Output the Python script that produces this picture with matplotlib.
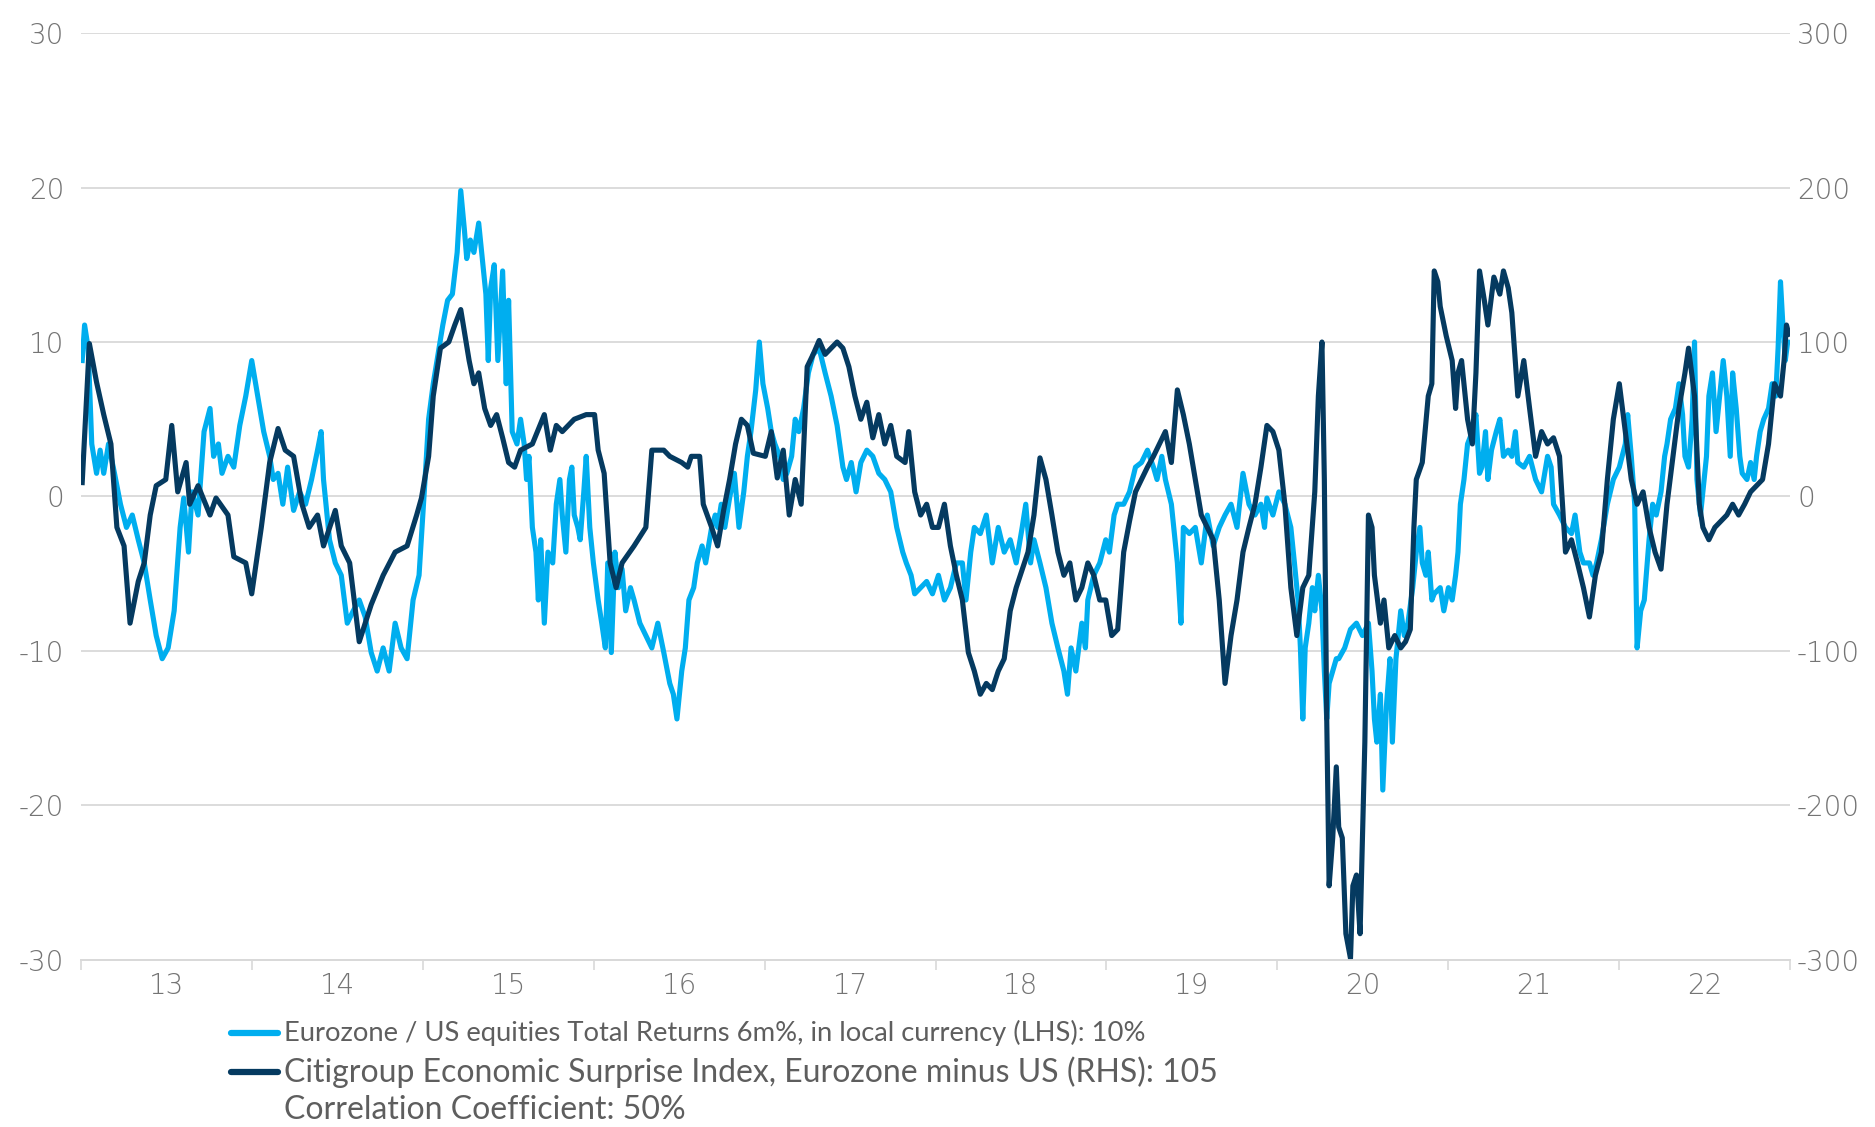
import matplotlib
matplotlib.use("Agg")
import matplotlib.pyplot as plt
from matplotlib.lines import Line2D
from matplotlib.ticker import FixedLocator, NullFormatter

# Eurozone / US equities total returns 6m% (LHS), decimal years
eq_dates = [
    2013.007, 2013.021, 2013.042, 2013.063, 2013.091, 2013.112, 2013.133, 2013.161, 2013.196, 2013.231,
    2013.266, 2013.300, 2013.335, 2013.370, 2013.405, 2013.440, 2013.475, 2013.510, 2013.545, 2013.580,
    2013.601, 2013.629, 2013.650, 2013.685, 2013.720, 2013.755, 2013.776, 2013.804, 2013.825, 2013.860,
    2013.894, 2013.929, 2013.964, 2013.999, 2014.034, 2014.069, 2014.104, 2014.125, 2014.153, 2014.181,
    2014.209, 2014.244, 2014.279, 2014.314, 2014.349, 2014.384, 2014.405, 2014.419, 2014.454, 2014.488,
    2014.523, 2014.558, 2014.593, 2014.628, 2014.663, 2014.698, 2014.733, 2014.768, 2014.803, 2014.838,
    2014.873, 2014.908, 2014.943, 2014.978, 2015.013, 2015.034, 2015.061, 2015.089, 2015.117, 2015.145,
    2015.173, 2015.201, 2015.222, 2015.243, 2015.257, 2015.278, 2015.299, 2015.327, 2015.348, 2015.369,
    2015.383, 2015.397, 2015.418, 2015.439, 2015.467, 2015.488, 2015.502, 2015.523, 2015.551, 2015.572,
    2015.593, 2015.607, 2015.621, 2015.641, 2015.662, 2015.676, 2015.690, 2015.711, 2015.732, 2015.760,
    2015.781, 2015.802, 2015.816, 2015.837, 2015.858, 2015.872, 2015.886, 2015.907, 2015.921, 2015.942,
    2015.956, 2015.977, 2015.998, 2016.026, 2016.047, 2016.068, 2016.082, 2016.103, 2016.124, 2016.145,
    2016.166, 2016.187, 2016.215, 2016.236, 2016.270, 2016.305, 2016.340, 2016.375, 2016.410, 2016.445,
    2016.466, 2016.487, 2016.515, 2016.536, 2016.557, 2016.585, 2016.606, 2016.634, 2016.655, 2016.690,
    2016.711, 2016.725, 2016.746, 2016.767, 2016.795, 2016.823, 2016.850, 2016.878, 2016.899, 2016.920,
    2016.948, 2016.969, 2016.990, 2017.018, 2017.039, 2017.060, 2017.088, 2017.109, 2017.130, 2017.158,
    2017.179, 2017.200, 2017.228, 2017.256, 2017.284, 2017.319, 2017.354, 2017.389, 2017.424, 2017.458,
    2017.479, 2017.507, 2017.535, 2017.563, 2017.598, 2017.633, 2017.668, 2017.703, 2017.738, 2017.773,
    2017.808, 2017.829, 2017.857, 2017.878, 2017.913, 2017.948, 2017.982, 2018.017, 2018.052, 2018.087,
    2018.122, 2018.157, 2018.178, 2018.206, 2018.227, 2018.262, 2018.297, 2018.332, 2018.367, 2018.402,
    2018.437, 2018.472, 2018.507, 2018.528, 2018.556, 2018.576, 2018.611, 2018.646, 2018.681, 2018.716,
    2018.751, 2018.772, 2018.793, 2018.821, 2018.856, 2018.877, 2018.891, 2018.926, 2018.961, 2018.996,
    2019.017, 2019.045, 2019.066, 2019.101, 2019.135, 2019.170, 2019.205, 2019.240, 2019.275, 2019.296,
    2019.324, 2019.345, 2019.380, 2019.415, 2019.436, 2019.450, 2019.485, 2019.520, 2019.555, 2019.590,
    2019.625, 2019.660, 2019.694, 2019.729, 2019.764, 2019.799, 2019.834, 2019.869, 2019.904, 2019.925,
    2019.939, 2019.974, 2020.009, 2020.044, 2020.079, 2020.100, 2020.121, 2020.135, 2020.149, 2020.163,
    2020.184, 2020.205, 2020.219, 2020.240, 2020.261, 2020.275, 2020.289, 2020.303, 2020.324, 2020.345,
    2020.359, 2020.394, 2020.428, 2020.463, 2020.498, 2020.533, 2020.554, 2020.568, 2020.582, 2020.603,
    2020.617, 2020.638, 2020.659, 2020.673, 2020.694, 2020.722, 2020.743, 2020.764, 2020.792, 2020.813,
    2020.834, 2020.848, 2020.869, 2020.883, 2020.904, 2020.918, 2020.953, 2020.974, 2021.001, 2021.023,
    2021.043, 2021.057, 2021.071, 2021.092, 2021.113, 2021.141, 2021.162, 2021.183, 2021.197, 2021.218,
    2021.232, 2021.253, 2021.281, 2021.302, 2021.323, 2021.351, 2021.372, 2021.393, 2021.407, 2021.442,
    2021.476, 2021.511, 2021.546, 2021.581, 2021.602, 2021.616, 2021.651, 2021.686, 2021.721, 2021.742,
    2021.770, 2021.791, 2021.826, 2021.847, 2021.868, 2021.896, 2021.931, 2021.966, 2022.001, 2022.036,
    2022.050, 2022.071, 2022.091, 2022.105, 2022.126, 2022.147, 2022.175, 2022.196, 2022.217, 2022.245,
    2022.266, 2022.280, 2022.301, 2022.329, 2022.350, 2022.371, 2022.385, 2022.406, 2022.427, 2022.441,
    2022.455, 2022.476, 2022.490, 2022.511, 2022.525, 2022.546, 2022.567, 2022.595, 2022.609, 2022.630,
    2022.650, 2022.664, 2022.685, 2022.706, 2022.720, 2022.748, 2022.769, 2022.790, 2022.804, 2022.825,
    2022.846, 2022.874, 2022.895, 2022.916, 2022.930, 2022.944, 2022.958, 2022.972, 2022.986,
]
eq_returns = [
    8.8, 11.1, 9.6, 3.4, 1.5, 3.0, 1.5, 3.4, 1.5, -0.5,
    -2.0, -1.2, -2.8, -4.3, -6.7, -9.0, -10.5, -9.8, -7.4, -2.0,
    -0.1, -3.6, 0.3, -1.2, 4.2, 5.7, 2.6, 3.4, 1.5, 2.6,
    1.9, 4.6, 6.5, 8.8, 6.5, 4.2, 2.6, 1.1, 1.5, -0.5,
    1.9, -0.9, 0.3, -0.5, 1.1, 3.0, 4.2, 1.1, -2.8, -4.3,
    -5.1, -8.2, -7.4, -6.7, -7.8, -10.1, -11.3, -9.8, -11.3, -8.2,
    -9.8, -10.5, -6.7, -5.1, 1.1, 5.0, 7.3, 9.2, 11.1, 12.7,
    13.1, 15.8, 19.8, 17.3, 15.4, 16.6, 15.8, 17.7, 15.4, 13.1,
    8.8, 13.5, 15.0, 8.8, 14.6, 7.3, 12.7, 4.2, 3.4, 5.0,
    3.4, 1.1, 2.6, -2.0, -3.6, -6.7, -2.8, -8.2, -3.6, -4.3,
    -0.5, 1.1, -1.2, -3.6, 1.1, 1.9, -1.2, -2.0, -2.8, 0.3,
    2.6, -2.0, -4.3, -6.7, -8.2, -9.8, -4.3, -10.1, -3.6, -5.9,
    -4.7, -7.4, -5.9, -6.7, -8.2, -9.0, -9.8, -8.2, -10.1, -12.1,
    -12.8, -14.4, -11.3, -9.8, -6.7, -5.9, -4.3, -3.2, -4.3, -2.0,
    -1.2, -2.0, -0.5, -2.0, -0.1, 1.5, -2.0, 0.3, 2.6, 4.2,
    6.9, 10.0, 7.3, 5.7, 4.2, 3.4, 2.6, 1.1, 1.5, 2.6,
    5.0, 4.2, 5.7, 8.0, 9.2, 9.6, 8.0, 6.5, 4.6, 1.9,
    1.1, 2.2, 0.3, 2.2, 3.0, 2.6, 1.5, 1.1, 0.3, -2.0,
    -3.6, -4.3, -5.1, -6.3, -5.9, -5.5, -6.3, -5.1, -6.7, -5.9,
    -4.3, -4.3, -6.7, -3.6, -2.0, -2.4, -1.2, -4.3, -2.0, -3.6,
    -2.8, -4.3, -2.0, -0.5, -4.3, -2.8, -4.3, -5.9, -8.2, -9.8,
    -11.3, -12.8, -9.8, -11.3, -8.2, -9.8, -6.7, -5.1, -4.3, -2.8,
    -3.6, -1.2, -0.5, -0.5, 0.3, 1.9, 2.2, 3.0, 1.9, 1.1,
    2.6, 1.1, -0.5, -4.3, -8.2, -2.0, -2.4, -2.0, -4.3, -1.2,
    -3.2, -2.0, -1.2, -0.5, -2.0, 1.5, -0.5, -1.2, -0.5, -2.0,
    -0.1, -1.2, 0.3, -0.5, -2.0, -4.3, -6.7, -9.8, -14.4, -9.8,
    -8.2, -5.9, -7.4, -5.1, -7.4, -11.3, -14.4, -12.1, -11.3, -10.5,
    -10.5, -9.8, -8.6, -8.2, -9.0, -8.2, -11.3, -14.4, -15.9, -12.8,
    -19.0, -13.6, -10.5, -15.9, -10.5, -7.4, -9.0, -8.2, -5.9, -3.6,
    -2.0, -4.3, -5.1, -3.6, -6.7, -6.3, -5.9, -7.4, -5.9, -6.7,
    -5.1, -3.6, -0.5, 1.1, 3.4, 4.2, 5.3, 1.5, 1.9, 4.2,
    1.1, 3.0, 4.2, 5.0, 2.6, 3.0, 2.6, 4.2, 2.2, 1.9,
    2.6, 1.1, 0.3, 2.6, 1.9, -0.5, -1.2, -2.0, -2.4, -1.2,
    -3.6, -4.3, -4.3, -5.1, -4.3, -2.8, -0.5, 1.1, 1.9, 3.4,
    5.3, 2.6, -0.5, -9.8, -7.4, -6.7, -2.8, -0.5, -1.2, 0.3,
    2.6, 3.4, 5.0, 5.7, 7.3, 5.3, 2.6, 1.9, 5.0, 10.0,
    1.1, -1.2, 0.3, 2.6, 6.5, 8.0, 4.2, 7.3, 8.8, 6.5,
    2.6, 8.0, 5.7, 2.6, 1.5, 1.1, 2.2, 1.1, 2.6, 4.2,
    5.0, 5.7, 7.3, 6.5, 9.6, 13.9, 11.1, 8.8, 10.0,
]

# Citigroup Economic Surprise Index, Eurozone minus US (RHS)
cesi_dates = [
    2013.007, 2013.049, 2013.091, 2013.133, 2013.175, 2013.210, 2013.252, 2013.287, 2013.335, 2013.370,
    2013.405, 2013.440, 2013.496, 2013.531, 2013.566, 2013.615, 2013.636, 2013.685, 2013.755, 2013.790,
    2013.860, 2013.894, 2013.964, 2013.999, 2014.055, 2014.104, 2014.153, 2014.195, 2014.244, 2014.293,
    2014.335, 2014.384, 2014.419, 2014.488, 2014.523, 2014.572, 2014.628, 2014.698, 2014.768, 2014.838,
    2014.908, 2014.964, 2014.992, 2015.034, 2015.061, 2015.103, 2015.152, 2015.187, 2015.222, 2015.271,
    2015.299, 2015.327, 2015.362, 2015.397, 2015.432, 2015.467, 2015.502, 2015.537, 2015.572, 2015.641,
    2015.711, 2015.746, 2015.781, 2015.816, 2015.886, 2015.956, 2016.005, 2016.026, 2016.061, 2016.096,
    2016.131, 2016.166, 2016.236, 2016.305, 2016.340, 2016.410, 2016.445, 2016.515, 2016.550, 2016.571,
    2016.620, 2016.641, 2016.690, 2016.725, 2016.760, 2016.795, 2016.830, 2016.864, 2016.899, 2016.934,
    2017.004, 2017.039, 2017.074, 2017.109, 2017.144, 2017.179, 2017.214, 2017.249, 2017.284, 2017.319,
    2017.354, 2017.389, 2017.424, 2017.458, 2017.493, 2017.528, 2017.563, 2017.598, 2017.633, 2017.668,
    2017.703, 2017.738, 2017.773, 2017.822, 2017.843, 2017.878, 2017.913, 2017.948, 2017.982, 2018.017,
    2018.052, 2018.087, 2018.122, 2018.157, 2018.192, 2018.227, 2018.262, 2018.297, 2018.332, 2018.367,
    2018.402, 2018.437, 2018.472, 2018.541, 2018.576, 2018.611, 2018.646, 2018.681, 2018.716, 2018.751,
    2018.786, 2018.821, 2018.856, 2018.891, 2018.926, 2018.961, 2018.996, 2019.031, 2019.066, 2019.101,
    2019.135, 2019.170, 2019.205, 2019.240, 2019.275, 2019.310, 2019.345, 2019.380, 2019.415, 2019.450,
    2019.485, 2019.520, 2019.555, 2019.590, 2019.625, 2019.660, 2019.694, 2019.729, 2019.764, 2019.799,
    2019.834, 2019.869, 2019.904, 2019.939, 2019.974, 2020.009, 2020.044, 2020.079, 2020.114, 2020.149,
    2020.184, 2020.219, 2020.240, 2020.261, 2020.275, 2020.289, 2020.303, 2020.324, 2020.345, 2020.359,
    2020.380, 2020.401, 2020.428, 2020.442, 2020.463, 2020.484, 2020.498, 2020.512, 2020.533, 2020.554,
    2020.568, 2020.603, 2020.624, 2020.652, 2020.687, 2020.722, 2020.750, 2020.778, 2020.799, 2020.813,
    2020.848, 2020.883, 2020.904, 2020.918, 2020.939, 2020.953, 2020.988, 2021.023, 2021.043, 2021.057,
    2021.078, 2021.113, 2021.141, 2021.162, 2021.183, 2021.211, 2021.232, 2021.267, 2021.302, 2021.323,
    2021.351, 2021.372, 2021.407, 2021.442, 2021.476, 2021.511, 2021.546, 2021.581, 2021.616, 2021.651,
    2021.686, 2021.721, 2021.756, 2021.791, 2021.826, 2021.861, 2021.896, 2021.931, 2021.966, 2022.001,
    2022.036, 2022.071, 2022.105, 2022.140, 2022.175, 2022.210, 2022.245, 2022.280, 2022.315, 2022.350,
    2022.385, 2022.406, 2022.441, 2022.469, 2022.490, 2022.525, 2022.560, 2022.595, 2022.630, 2022.664,
    2022.699, 2022.734, 2022.769, 2022.804, 2022.839, 2022.874, 2022.909, 2022.944, 2022.965, 2022.979,
    2022.993,
]
cesi_diff = [
    9, 99, 74, 53, 34, -20, -32, -82, -55, -43,
    -12, 7, 11, 46, 3, 22, -5, 7, -12, -1,
    -12, -39, -43, -63, -20, 22, 44, 30, 26, -5,
    -20, -12, -32, -9, -32, -43, -94, -70, -51, -36,
    -32, -12, -1, 26, 65, 96, 100, 111, 121, 88,
    73, 80, 57, 46, 53, 38, 22, 19, 30, 34,
    53, 30, 46, 42, 50, 53, 53, 30, 15, -43,
    -59, -43, -32, -20, 30, 30, 26, 22, 19, 26,
    26, -5, -20, -32, -9, 11, 34, 50, 46, 28,
    26, 42, 12, 30, -12, 11, -5, 84, 92, 101,
    92, 96, 100, 96, 84, 65, 50, 61, 38, 53,
    34, 46, 26, 22, 42, 3, -12, -5, -20, -20,
    -5, -32, -51, -67, -101, -113, -128, -121, -125, -113,
    -105, -74, -59, -36, -12, 25, 11, -12, -36, -51,
    -43, -67, -59, -43, -51, -67, -67, -90, -86, -36,
    -16, 3, 11, 19, 26, 34, 42, 22, 69, 53,
    34, 11, -12, -20, -28, -67, -121, -90, -67, -36,
    -20, -5, 19, 46, 42, 30, -5, -59, -90, -59,
    -51, 3, 65, 100, 11, -144, -252, -221, -175, -214,
    -221, -283, -299, -252, -245, -283, -221, -159, -12, -20,
    -51, -82, -67, -98, -90, -98, -94, -86, -20, 11,
    22, 65, 73, 146, 139, 123, 104, 88, 57, 80,
    88, 50, 34, 80, 146, 127, 111, 142, 131, 146,
    135, 119, 65, 88, 57, 26, 42, 34, 38, 26,
    -36, -28, -43, -59, -78, -51, -36, 11, 50, 73,
    42, 11, -5, 3, -20, -36, -47, -5, 26, 57,
    80, 96, 65, -5, -20, -28, -20, -16, -12, -5,
    -12, -5, 3, 7, 11, 34, 73, 65, 88, 111,
    105,
]

year_labels = ["13", "14", "15", "16", "17", "18", "19", "20", "21", "22"]
lhs_ticks = [-30, -20, -10, 0, 10, 20, 30]
rhs_ticks = [-300, -200, -100, 0, 100, 200, 300]

legend_labels = [
    "Eurozone / US equities Total Returns 6m%, in local currency (LHS): 10%",
    "Citigroup Economic Surprise Index, Eurozone minus US (RHS): 105",
    "Correlation Coefficient: 50%",
]

LIGHT = "#00aeef"
DARK = "#053a60"
GRID = "#d9d9d9"
TICKC = "#747474"
TEXTC = "#5e5e5e"

plt.rcParams["font.family"] = ["DejaVu Sans"]
plt.rcParams["axes.unicode_minus"] = False

fig = plt.figure(figsize=(18.75, 11.27), dpi=100)
ax = fig.add_axes([0.0432, 0.1482, 0.9115, 0.8225])
ax2 = ax.twinx()

ax.plot(eq_dates, eq_returns, color=LIGHT, lw=3.7, solid_joinstyle="round")
ax2.plot(cesi_dates, cesi_diff, color=DARK, lw=3.7, solid_joinstyle="round")

ax.set_xlim(2013.0, 2023.0)
ax.set_ylim(-30, 30)
ax2.set_ylim(-300, 300)

ax.set_yticks(lhs_ticks)
ax.set_yticklabels([str(t) for t in lhs_ticks])
ax2.set_yticks(rhs_ticks)
ax2.set_yticklabels([str(t) for t in rhs_ticks])
ax.yaxis.grid(True, color=GRID, lw=1.3)
ax.set_axisbelow(True)

# year boundaries as small ticks, year labels in the middle
ax.xaxis.set_major_locator(FixedLocator(list(range(2013, 2024))))
ax.xaxis.set_major_formatter(NullFormatter())
ax.xaxis.set_minor_locator(FixedLocator([2013.5 + i for i in range(len(year_labels))]))
ax.set_xticklabels(year_labels, minor=True)
ax.tick_params(axis="x", which="major", length=7, width=1.2, color=GRID)
ax.tick_params(axis="x", which="minor", length=0, pad=9, labelsize=20, labelcolor=TICKC)

ax.tick_params(axis="y", length=0, pad=12, labelsize=20, labelcolor=TICKC)
ax2.tick_params(axis="y", length=0, pad=5, labelsize=20, labelcolor=TICKC)
for lab in ax.get_xticklabels(minor=True) + ax.get_yticklabels() + ax2.get_yticklabels():
    lab.set_fontweight("light")

for a in (ax, ax2):
    for s in ("top", "left", "right"):
        a.spines[s].set_visible(False)
    a.spines["bottom"].set_color(GRID)
    a.spines["bottom"].set_linewidth(1.3)

# legend rows drawn by hand so each row can have its own size
row_y = [0.0834, 0.0488, 0.0151]
row_size = [19.7, 23, 23]
row_color = [LIGHT, DARK, None]
for y, label, size, col in zip(row_y, legend_labels, row_size, row_color):
    if col is not None:
        fig.add_artist(Line2D([0.1232, 0.1485], [y, y], transform=fig.transFigure,
                              color=col, lw=4.5, solid_capstyle="round"))
    fig.text(0.1515, y, label, ha="left", va="center", fontsize=size, color=TEXTC,
             family=["Lato", "DejaVu Sans"], fontweight="normal")

fig.savefig("out.png", dpi=100)
